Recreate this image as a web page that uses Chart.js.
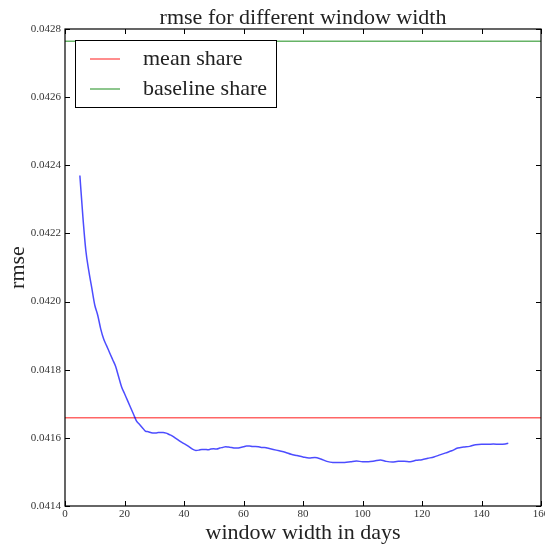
<!DOCTYPE html>
<html>
<head>
<meta charset="utf-8">
<script src="https://cdn.jsdelivr.net/npm/chart.js@4.4.1/dist/chart.umd.min.js"></script>
<style>
  html, body { margin: 0; padding: 0; background: #fff; }
  #wrap { width: 545px; height: 544px; }
</style>
</head>
<body>
<div id="wrap"><canvas id="myChart" width="545" height="544"></canvas></div>
<script>
// window widths (days) and rmse
const windowDays = [5, 6, 7, 8, 9, 10, 11, 12, 13, 14, 15, 16, 17, 18, 19, 20, 21, 22, 23, 24, 25, 26, 27, 28, 29, 30,
    31, 32, 33, 34, 35, 36, 37, 38, 39, 40, 41, 42, 43, 44, 45, 46, 47, 48, 49, 50, 51, 52, 53, 54, 55, 56, 57, 58, 59, 60,
    61, 62, 63, 64, 65, 66, 67, 68, 69, 70, 71, 72, 74, 76, 78, 80, 82, 84, 86, 88, 90, 92, 94, 96, 98, 100,
    102, 104, 106, 108, 110, 112, 114, 116, 118, 120, 122, 124, 126, 128, 130, 132, 134, 136, 138, 140, 142, 144, 146, 148, 149];
const rmseValues = [0.04237, 0.04225, 0.04215, 0.04209, 0.04204, 0.04199, 0.04196, 0.04192, 0.04189, 0.04187, 0.04185, 0.04183, 0.04181, 0.04178, 0.04175, 0.04173, 0.04171, 0.04169, 0.04167, 0.04165, 0.04164, 0.04163, 0.04162, 0.041618, 0.041615, 0.041614,
    0.041615, 0.041616, 0.041616, 0.041614, 0.041610, 0.041606, 0.041600, 0.041594, 0.041588, 0.041583, 0.041578, 0.041572, 0.041566, 0.041563, 0.041564, 0.041566, 0.041566, 0.041565, 0.041567, 0.041568, 0.041567, 0.041570, 0.041572, 0.041574, 0.041573, 0.041572, 0.041570, 0.041570, 0.041572, 0.041574,
    0.041576, 0.041576, 0.041575, 0.041575, 0.041574, 0.041572, 0.041572, 0.041570, 0.041568, 0.041566, 0.041564, 0.041562, 0.041558, 0.041552, 0.041548, 0.041544, 0.041541, 0.041542, 0.041538, 0.041531, 0.041528, 0.041528, 0.041528, 0.041530, 0.041532, 0.041530,
    0.041530, 0.041532, 0.041535, 0.041531, 0.041529, 0.041531, 0.041531, 0.041530, 0.041534, 0.041536, 0.041540, 0.041544, 0.041550, 0.041556, 0.041562, 0.041570, 0.041573, 0.041575, 0.041580, 0.041581, 0.041581, 0.041582, 0.041581, 0.041582, 0.041584];

const meanShare = 0.041659;
const baselineShare = 0.042764;
const xRange = [0, 160];
const yRange = [0.0414, 0.0428];
const legendLabels = ['mean share', 'baseline share'];

const serif = '"Liberation Serif", "DejaVu Serif", serif';

// ticks pointing inwards on all four sides, plus the frame and the legend box
const marcoPlugin = {
    id: 'marco',
    afterDraw(chart) {
        const ctx = chart.ctx;
        const a = chart.chartArea;
        const xs = chart.scales.x;
        const ys = chart.scales.y;
        ctx.save();
        ctx.strokeStyle = '#000';
        ctx.lineWidth = 1;
        ctx.beginPath();
        xs.ticks.forEach(t => {
            const px = Math.round(xs.getPixelForValue(t.value)) + 0.5;
            ctx.moveTo(px, a.bottom); ctx.lineTo(px, a.bottom - 5);
            ctx.moveTo(px, a.top); ctx.lineTo(px, a.top + 5);
        });
        ys.ticks.forEach(t => {
            const py = Math.round(ys.getPixelForValue(t.value)) + 0.5;
            ctx.moveTo(a.left, py); ctx.lineTo(a.left + 5, py);
            ctx.moveTo(a.right, py); ctx.lineTo(a.right - 5, py);
        });
        ctx.stroke();
        ctx.lineWidth = 1.2;
        ctx.strokeRect(a.left, a.top, a.right - a.left, a.bottom - a.top);

        // legend
        const bx = a.left + 10, by = a.top + 11, bw = 201, bh = 67;
        ctx.fillStyle = '#fff';
        ctx.fillRect(bx, by, bw, bh);
        ctx.lineWidth = 1;
        ctx.strokeStyle = '#000';
        ctx.strokeRect(bx + 0.5, by + 0.5, bw, bh);
        ctx.font = '22px ' + serif;
        ctx.textBaseline = 'middle';
        legendLabels.forEach((lbl, i) => {
            const ds = chart.data.datasets.find(d => d.label === lbl);
            const cy = by + 19 + i * 30;
            ctx.strokeStyle = ds.borderColor;
            ctx.lineWidth = 1.5;
            ctx.beginPath();
            ctx.moveTo(bx + 15, cy); ctx.lineTo(bx + 45, cy);
            ctx.stroke();
            ctx.fillStyle = '#222';
            ctx.fillText(lbl, bx + 68, cy);
        });
        ctx.restore();
    }
};

const ctx = document.getElementById('myChart').getContext('2d');
new Chart(ctx, {
    type: 'line',
    data: {
        datasets: [
            {
                label: 'rmse',
                data: windowDays.map((d, i) => ({ x: d, y: rmseValues[i] })),
                borderColor: 'rgba(0, 0, 255, 0.7)',
                borderWidth: 1.5,
                pointRadius: 0,
                cubicInterpolationMode: 'monotone'
            },
            {
                label: 'mean share',
                data: xRange.map(d => ({ x: d, y: meanShare })),
                borderColor: 'rgba(255, 0, 0, 0.6)',
                borderWidth: 1.5,
                pointRadius: 0
            },
            {
                label: 'baseline share',
                data: xRange.map(d => ({ x: d, y: baselineShare })),
                borderColor: 'rgba(0, 128, 0, 0.6)',
                borderWidth: 1.5,
                pointRadius: 0
            }
        ]
    },
    options: {
        responsive: false,
        animation: false,
        layout: { padding: { left: 0, right: 4, top: 0, bottom: 0 } },
        plugins: {
            legend: { display: false },
            tooltip: { enabled: false },
            title: {
                display: true,
                fullSize: false,
                text: 'rmse for different window width',
                color: '#222',
                font: { family: serif, size: 22, weight: 'normal', lineHeight: 1 },
                padding: { top: 7, bottom: 0 }
            }
        },
        scales: {
            x: {
                type: 'linear',
                min: xRange[0],
                max: xRange[1],
                afterFit: s => { s.height = 38; s.paddingLeft = 0; s.paddingRight = 0; },
                grid: { display: false, drawTicks: false },
                border: { display: false },
                ticks: {
                    stepSize: 20,
                    padding: 2,
                    color: '#333',
                    font: { family: serif, size: 11 },
                    maxRotation: 0
                },
                title: {
                    display: true,
                    text: 'window width in days',
                    color: '#222',
                    font: { family: serif, size: 22, lineHeight: 1 },
                    padding: { top: 0, bottom: 0 }
                }
            },
            y: {
                min: yRange[0],
                max: yRange[1],
                afterFit: s => { s.width = 65; s.paddingTop = 0; s.paddingBottom = 0; },
                grid: { display: false, drawTicks: false },
                border: { display: false },
                ticks: {
                    stepSize: 0.0002,
                    padding: 4,
                    color: '#333',
                    font: { family: serif, size: 11 },
                    callback: v => v.toFixed(4)
                },
                title: {
                    display: true,
                    text: 'rmse',
                    color: '#222',
                    font: { family: serif, size: 22 },
                    padding: { top: 5, bottom: 0 }
                }
            }
        }
    },
    plugins: [marcoPlugin]
});
</script>
</body>
</html>
